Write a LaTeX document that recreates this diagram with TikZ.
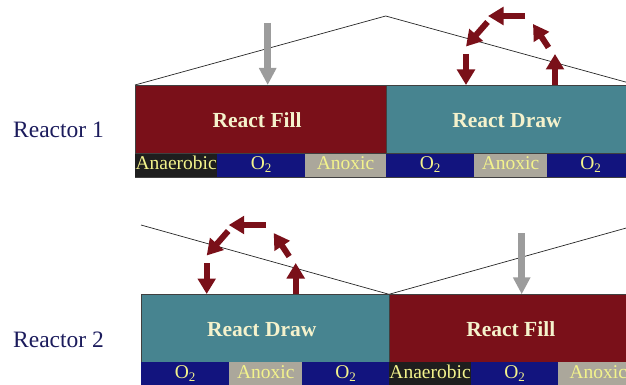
\documentclass[tikz,border=0pt]{standalone}
\usepackage{fontspec}
\setmainfont{Liberation Serif}
\usetikzlibrary{arrows.meta}

\definecolor{fillred}{HTML}{7A1019}
\definecolor{drawteal}{HTML}{478490}
\definecolor{oxnavy}{HTML}{12147E}
\definecolor{anoxgray}{HTML}{ABA79B}
\definecolor{anaeblack}{HTML}{1E1E1E}
\definecolor{striptxt}{HTML}{F3F38C}
\definecolor{titletxt}{HTML}{F5F2CC}
\definecolor{reactortxt}{HTML}{1B1B5C}
\definecolor{feedgray}{HTML}{9C9C9C}

\newcommand{\Otwo}{O\raisebox{-0.32ex}{\fontsize{13}{13}\selectfont 2}}

\tikzset{
  phase/.style={draw=black!75, line width=0.5pt, inner sep=0pt,
    text=titletxt, font=\fontsize{21.5}{21.5}\selectfont\bfseries,
    text depth=0pt},
  seg/.style={inner sep=0pt, minimum height=23.5pt,
    text=striptxt, font=\fontsize{19.5}{19.5}\selectfont,
    text height=13pt, text depth=5pt},
  reactorlabel/.style={inner sep=0pt, text=reactortxt,
    font=\fontsize{23.5}{23.5}\selectfont},
  outline/.style={draw=black!85, line width=0.7pt},
  mixarrow/.style={draw=fillred, line width=6pt,
    -{Triangle[width=17.5pt,length=15.5pt]}},
  feedarrow/.style={draw=feedgray, line width=6.8pt,
    -{Triangle[width=16.5pt,length=17pt]}}
}

\begin{document}
\begin{tikzpicture}[x=1pt, y=-1pt]
\useasboundingbox (0,0) rectangle (626,385);
\clip (0,0) rectangle (626,385);

% ---------------- Reactor 1 ----------------
\node[reactorlabel, anchor=base west] (lab1) at (13,137) {Reactor 1};

% tank outline (roof)
\coordinate (r1l) at (135,85);
\coordinate (r1apex) at (385.7,16);
\coordinate (r1r) at (636.4,85);
\draw[outline] (r1l) -- (r1apex) -- (r1r);

% phase blocks
\node[phase, fill=fillred, anchor=north west, minimum width=250.7pt,
      minimum height=68.3pt, text height=16.6pt] (r1fill) at (135,85) {React Fill\hspace*{7pt}};
\node[phase, fill=drawteal, anchor=north west, minimum width=242pt,
      minimum height=68.3pt, text height=16.6pt] (r1draw) at (385.7,85) {React Draw};

% aeration strip
\node[seg, fill=anaeblack, anchor=north west, minimum width=82pt] (r1s1) at (135,153.3) {Anaerobic};
\node[seg, fill=oxnavy, anchor=north west, minimum width=88pt] (r1s2) at (217,153.3) {\Otwo};
\node[seg, fill=anoxgray, anchor=north west, minimum width=80.7pt] (r1s3) at (305,153.3) {Anoxic};
\node[seg, fill=oxnavy, anchor=north west, minimum width=88.3pt] (r1s4) at (385.7,153.3) {\Otwo};
\node[seg, fill=anoxgray, anchor=north west, minimum width=72.7pt] (r1s5) at (474,153.3) {Anoxic};
\node[seg, fill=oxnavy, anchor=north west, minimum width=87.3pt] (r1s6) at (546.7,153.3) {\Otwo};
\draw[black!75, line width=0.5pt] (r1s1.south west) -- (r1s6.south east);

% feed arrow
\coordinate (r1feedtop) at (267.7,23);
\coordinate (r1feedtip) at (267.7,85);
\draw[feedarrow] (r1feedtop) -- (r1feedtip);

% recirculation arrows
\coordinate (r1m1a) at (466,54);    \coordinate (r1m1b) at (466,85);
\coordinate (r1m2a) at (555,85);    \coordinate (r1m2b) at (555,54);
\coordinate (r1m3a) at (548.5,47.5);\coordinate (r1m3b) at (533,24);
\coordinate (r1m4a) at (525,16);    \coordinate (r1m4b) at (488,16);
\coordinate (r1m5a) at (487.5,22);  \coordinate (r1m5b) at (466,46.5);
\draw[mixarrow] (r1m1a) -- (r1m1b);
\draw[mixarrow] (r1m2a) -- (r1m2b);
\draw[mixarrow] (r1m3a) -- (r1m3b);
\draw[mixarrow] (r1m4a) -- (r1m4b);
\draw[mixarrow] (r1m5a) -- (r1m5b);

% ---------------- Reactor 2 ----------------
\node[reactorlabel, anchor=base west] (lab2) at (13,347) {Reactor 2};

% tank outline (inverted roof)
\coordinate (r2l) at (141,225);
\coordinate (r2dip) at (389,294.3);
\coordinate (r2r) at (637,225);
\draw[outline] (r2l) -- (r2dip) -- (r2r);

% phase blocks
\node[phase, fill=drawteal, anchor=north west, minimum width=248pt,
      minimum height=67.7pt, text height=17pt] (r2draw) at (141,294.3) {React Draw\hspace*{7pt}};
\node[phase, fill=fillred, anchor=north west, minimum width=243pt,
      minimum height=67.7pt, text height=17pt] (r2fill) at (389,294.3) {React Fill};

% aeration strip
\node[seg, fill=oxnavy, anchor=north west, minimum width=88pt, minimum height=24pt] (r2s1) at (141,362) {\Otwo};
\node[seg, fill=anoxgray, anchor=north west, minimum width=73pt, minimum height=24pt] (r2s2) at (229,362) {Anoxic};
\node[seg, fill=oxnavy, anchor=north west, minimum width=87pt, minimum height=24pt] (r2s3) at (302,362) {\Otwo};
\node[seg, fill=anaeblack, anchor=north west, minimum width=81.7pt, minimum height=24pt] (r2s4) at (389,362) {Anaerobic};
\node[seg, fill=oxnavy, anchor=north west, minimum width=87.3pt, minimum height=24pt] (r2s5) at (470.7,362) {\Otwo};
\node[seg, fill=anoxgray, anchor=north west, minimum width=80pt, minimum height=24pt] (r2s6) at (558,362) {Anoxic};

% feed arrow
\coordinate (r2feedtop) at (521.7,233);
\coordinate (r2feedtip) at (521.7,294.3);
\draw[feedarrow] (r2feedtop) -- (r2feedtip);

% recirculation arrows
\begin{scope}[shift={(-259.3,209)}]
\coordinate (r2m1a) at (466,54);    \coordinate (r2m1b) at (466,85);
\coordinate (r2m2a) at (555,85);    \coordinate (r2m2b) at (555,54);
\coordinate (r2m3a) at (548.5,47.5);\coordinate (r2m3b) at (533,24);
\coordinate (r2m4a) at (525,16);    \coordinate (r2m4b) at (488,16);
\coordinate (r2m5a) at (487.5,22);  \coordinate (r2m5b) at (466,46.5);
\end{scope}
\draw[mixarrow] (r2m1a) -- (r2m1b);
\draw[mixarrow] (r2m2a) -- (r2m2b);
\draw[mixarrow] (r2m3a) -- (r2m3b);
\draw[mixarrow] (r2m4a) -- (r2m4b);
\draw[mixarrow] (r2m5a) -- (r2m5b);
\end{tikzpicture}
\end{document}
